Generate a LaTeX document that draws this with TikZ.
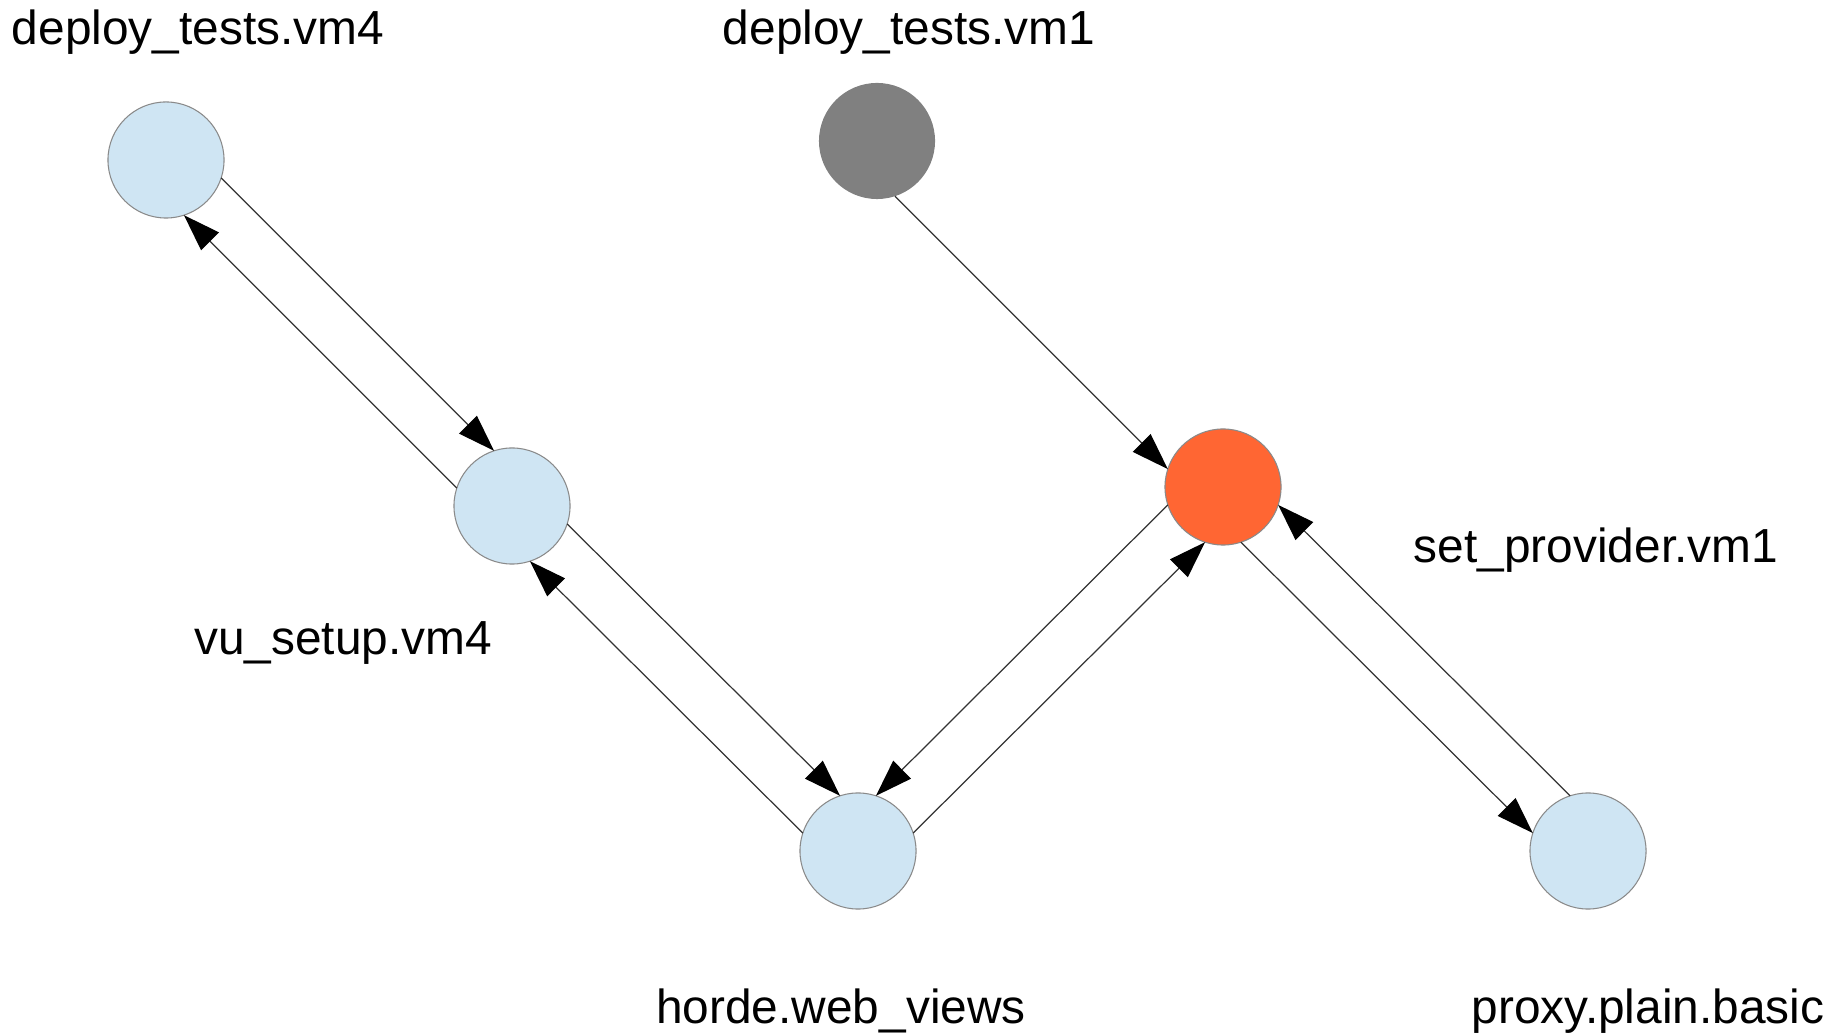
\documentclass[tikz,border=0pt]{standalone}
\usepackage{fontspec}
\setmainfont{Liberation Sans}
\usetikzlibrary{arrows.meta}
\definecolor{nodeblue}{HTML}{CFE5F3}
\definecolor{nodeorange}{HTML}{FF6633}
\definecolor{nodegray}{HTML}{808080}
\definecolor{rimgray}{HTML}{8A8A8A}
\definecolor{linegray}{HTML}{333333}

\begin{document}
\begin{tikzpicture}[x=0.01cm, y=-0.01cm,
        task/.style={circle, draw=rimgray, line width=0.3pt, fill=nodeblue,
            minimum size=1.16cm, inner sep=0pt, outer sep=0pt},
        tasklabel/.style={anchor=base, inner sep=0pt,
            font=\fontsize{13.6pt}{16pt}\selectfont},
        link/.style={->, draw=linegray, line width=0.35pt},
        >={Triangle[length=0.37cm, width=0.25cm, color=black]}]
    \useasboundingbox (0,0) rectangle (1848,1034);

    \node[task] (dtvmfour) at (166,160) {};
    \node[task] (vusetup) at (512,506) {};
    \node[task] (horde) at (858,851) {};
    \node[task, fill=nodegray, draw=none] (dtvmone) at (877,141) {};
    \node[task, fill=nodeorange] (provider) at (1223,487) {};
    \node[task] (proxy) at (1588,851) {};

    \node[tasklabel] (dtvmfourlbl) at (198,45) {deploy\_tests.vm4};
    \node[tasklabel] (dtvmonelbl) at (909,45) {deploy\_tests.vm1};
    \node[tasklabel] (vusetuplbl) at (343,655) {vu\_setup.vm4};
    \node[tasklabel] (providerlbl) at (1596,563) {set\_provider.vm1};
    \node[tasklabel] (hordelbl) at (841,1023) {horde.web\_views};
    \node[tasklabel] (proxylbl) at (1648,1023) {proxy.plain.basic};

    \draw[link] (dtvmfour.-18) -- (vusetup.108);
    \draw[link] (vusetup.162) -- (dtvmfour.-72);
    \draw[link] (vusetup.-18) -- (horde.108);
    \draw[link] (horde.162) -- (vusetup.-72);
    \draw[link] (dtvmone.-72) -- (provider.162);
    \draw[link] (provider.198) -- (horde.72);
    \draw[link] (horde.18) -- (provider.252);
    \draw[link] (provider.-72) -- (proxy.162);
    \draw[link] (proxy.108) -- (provider.-18);
\end{tikzpicture}
\end{document}
